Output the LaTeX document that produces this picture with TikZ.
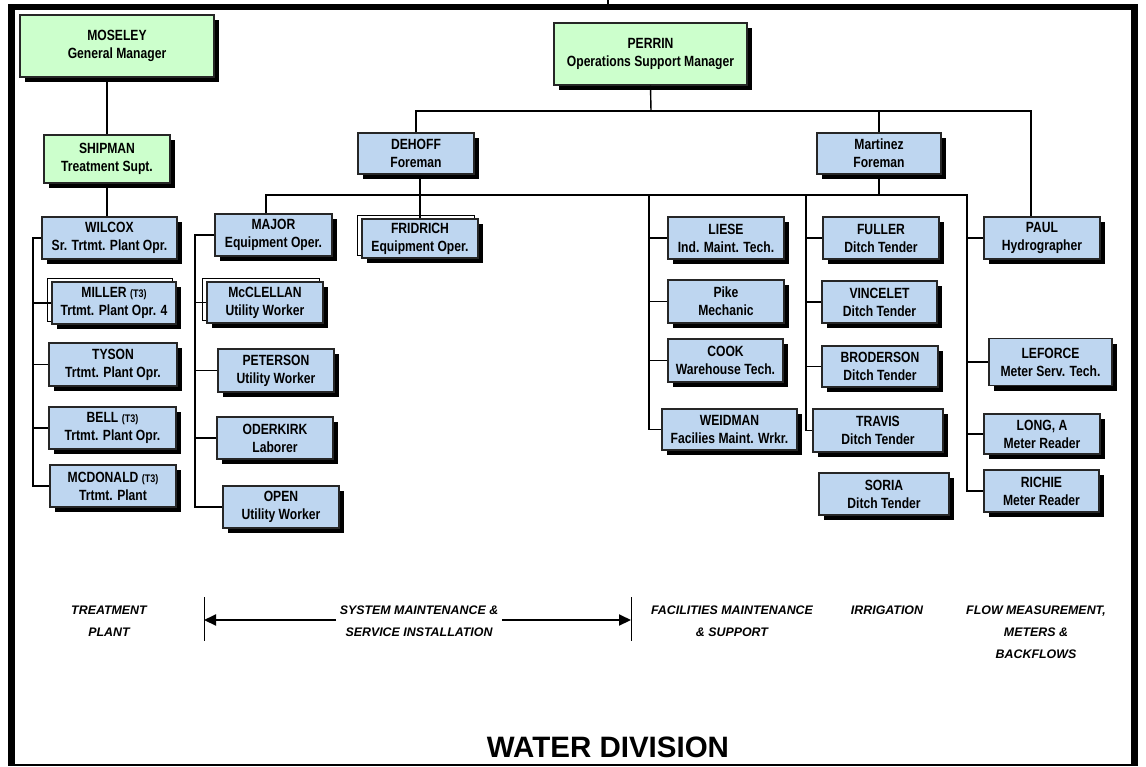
\documentclass[tikz,border=0pt]{standalone}
\usepackage{fontspec}
\setmainfont{Liberation Sans}
\newfontfamily\narrowfont{Liberation Sans}[FakeStretch=0.82]
\usetikzlibrary{shadows,arrows.meta,backgrounds}
\definecolor{boxgreen}{HTML}{CCFFCC}
\definecolor{boxblue}{RGB}{190,214,240}
\begin{document}
\begin{tikzpicture}[x=1pt,y=-1pt,
    person/.style={draw=black!85,line width=1.2pt,fill=boxblue,align=center,inner sep=0pt,
        font={\narrowfont\bfseries\fontsize{14.8}{18}\selectfont},
        drop shadow={shadow xshift=5pt,shadow yshift=-5pt,fill=black,opacity=1}},
    boss/.style={person,fill=boxgreen},
    link/.style={line width=1.4pt},
    span/.style={line width=2pt,-{Triangle[length=12pt,width=11pt]}},
    area/.style={align=center,font={\bfseries\itshape\fontsize{12.4}{22}\selectfont}}]
\useasboundingbox (0,0) rectangle (1146,766);
\draw[line width=6pt] (8,7) -- (1138,7);
\draw[line width=7pt] (11.5,4) -- (11.5,766);
\draw[line width=7pt] (1134.5,4) -- (1134.5,766);
\draw[line width=1.2pt] (15,765) -- (1131,765);
\draw[line width=2pt] (608,0) -- (608,4);
\node[boss,minimum width=194pt,minimum height=62pt] (moseley) at (117,46) {MOSELEY\\General Manager};
\node[boss,minimum width=193pt,minimum height=62pt] (perrin) at (650.5,54) {PERRIN\\Operations Support Manager};
\node[boss,minimum width=126pt,minimum height=48pt] (shipman) at (107,159) {SHIPMAN\\Treatment Supt.};
\node[person,minimum width=116pt,minimum height=41pt] (dehoff) at (416,153.5) {DEHOFF\\Foreman};
\node[person,minimum width=124pt,minimum height=41pt] (martinez) at (879,153.5) {Martinez\\Foreman};
\node[person,minimum width=135pt,minimum height=42pt] (wilcox) at (109.5,238) {WILCOX\\Sr. Trtmt. Plant Opr.};
\node[person,minimum width=124pt,minimum height=42pt] (miller) at (114,303) {MILLER {\fontsize{11}{18}\selectfont(T3)}\\Trtmt. Plant Opr. 4};
\node[person,minimum width=128pt,minimum height=43pt] (tyson) at (113,364.5) {TYSON\\Trtmt. Plant Opr.};
\node[person,minimum width=127pt,minimum height=42pt] (bell) at (112.5,428) {BELL {\fontsize{11}{18}\selectfont(T3)}\\Trtmt. Plant Opr.};
\node[person,minimum width=126pt,minimum height=42pt] (mcdonald) at (113,486) {MCDONALD {\fontsize{11}{18}\selectfont(T3)}\\Trtmt. Plant};
\node[person,minimum width=117pt,minimum height=42pt] (major) at (273.5,235) {MAJOR\\Equipment Oper.};
\node[person,minimum width=116pt,minimum height=41pt] (mcclellan) at (265,302.5) {McCLELLAN\\Utility Worker};
\node[person,minimum width=116pt,minimum height=43pt] (peterson) at (276,370.5) {PETERSON\\Utility Worker};
\node[person,minimum width=116pt,minimum height=42pt] (oderkirk) at (275,438) {ODERKIRK\\Laborer};
\node[person,minimum width=116pt,minimum height=42pt] (open) at (281,507) {OPEN\\Utility Worker};
\node[person,minimum width=116pt,minimum height=39pt] (fridrich) at (420,238.5) {FRIDRICH\\Equipment Oper.};
\node[person,minimum width=116pt,minimum height=42pt] (liese) at (726,238) {LIESE\\Ind. Maint. Tech.};
\node[person,minimum width=116pt,minimum height=43pt] (pike) at (726,301.5) {Pike\\Mechanic};
\node[person,minimum width=115pt,minimum height=43pt] (cook) at (725.5,360.5) {COOK\\Warehouse Tech.};
\node[person,minimum width=135pt,minimum height=41pt] (weidman) at (729.5,429.5) {WEIDMAN\\Facilies Maint. Wrkr.};
\node[person,minimum width=116pt,minimum height=42pt] (fuller) at (881,238) {FULLER\\Ditch Tender};
\node[person,minimum width=115pt,minimum height=42pt] (vincelet) at (879.5,302) {VINCELET\\Ditch Tender};
\node[person,minimum width=116pt,minimum height=41pt] (broderson) at (880,366.5) {BRODERSON\\Ditch Tender};
\node[person,minimum width=130pt,minimum height=43pt] (travis) at (878,430.5) {TRAVIS\\Ditch Tender};
\node[person,minimum width=130pt,minimum height=42pt] (soria) at (884,494) {SORIA\\Ditch Tender};
\node[person,minimum width=116pt,minimum height=42pt] (paul) at (1042,238) {PAUL\\Hydrographer};
\node[person,minimum width=123pt,minimum height=47pt] (leforce) at (1050.5,362) {LEFORCE\\Meter Serv. Tech.};
\node[person,minimum width=116pt,minimum height=40pt] (long) at (1042,434) {LONG, A\\Meter Reader};
\node[person,minimum width=115pt,minimum height=42pt] (richie) at (1041.5,491) {RICHIE\\Meter Reader};
\begin{scope}[on background layer]
\foreach \n in {miller,mcclellan,fridrich}
    \draw[line width=1.2pt] ([shift={(-4,-3)}]\n.north west) rectangle ([shift={(-4,-3)}]\n.south east);
\end{scope}
\coordinate (pb) at (651,111);
\coordinate (pr) at (1031,111);
\coordinate (fb) at (266,195);
\coordinate (fbr) at (967,195);
\coordinate (tc) at (33,238);
\coordinate (sc) at (195,235);
\coordinate (lc) at (649,195);
\coordinate (fc) at (806,195);
\draw[link] (shipman.north) -- (shipman.north |- moseley.south);
\draw[link] (shipman.south) -- (shipman.south |- wilcox.north);
\draw[link] (wilcox.west) -- (tc) |- (mcdonald.west);
\foreach \n in {miller,tyson,bell}
    \draw[link] (tc |- \n.west) -- (\n.west);
\draw[link] (perrin.south) -- (pb);
\draw[link] (dehoff.north) |- (pr) -- (pr |- paul.north);
\draw[link] (martinez.north) -- (martinez.north |- pb);
\draw[link] (fridrich.north) -- (fridrich.north |- dehoff.south);
\draw[link] (martinez.south) -- (martinez.south |- fb);
\draw[link] (major.north -| fb) -- (fb) -- (fbr) |- (richie.west);
\foreach \n in {paul,leforce,long}
    \draw[link] (fbr |- \n.west) -- (\n.west);
\draw[link] (major.west) -- (sc) |- (open.west);
\foreach \n in {mcclellan,peterson,oderkirk}
    \draw[link] (sc |- \n.west) -- (\n.west);
\draw[link] (lc) |- (weidman.west);
\foreach \n in {liese,pike,cook}
    \draw[link] (lc |- \n.west) -- (\n.west);
\draw[link] (fc) |- (travis.west);
\foreach \n in {fuller,vincelet,broderson}
    \draw[link] (fc |- \n.west) -- (\n.west);
\node[area] (treat) at (109,621) {TREATMENT\\PLANT};
\node[area] (sysm) at (419,621) {SYSTEM MAINTENANCE \&\\SERVICE INSTALLATION};
\node[area] (facil) at (732,621) {FACILITIES MAINTENANCE\\\& SUPPORT};
\node[area] (irrig) at (887,610) {IRRIGATION};
\node[area] (flow) at (1036,632) {FLOW MEASUREMENT,\\METERS \&\\BACKFLOWS};
\coordinate (lbar) at (204,620);
\coordinate (rbar) at (631,620);
\draw (204,597) -- (204,641);
\draw (631,597) -- (631,641);
\draw[span] (sysm.west |- lbar) -- (lbar);
\draw[span] (sysm.east |- rbar) -- (rbar);
\node[font={\bfseries\fontsize{29.5}{30}\selectfont}] (title) at (608,747) {WATER DIVISION};
\end{tikzpicture}
\end{document}
